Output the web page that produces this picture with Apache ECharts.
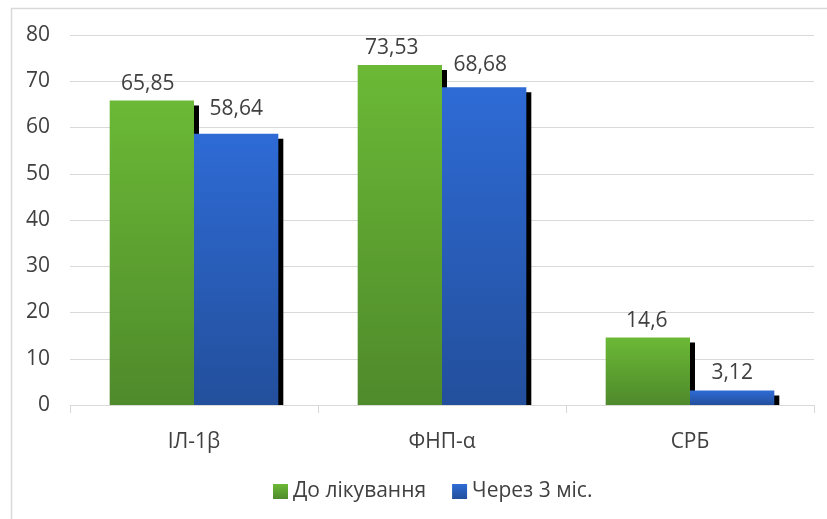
<!DOCTYPE html>
<html>
<head>
<meta charset="utf-8">
<script src="https://cdn.jsdelivr.net/npm/echarts@6/dist/echarts.min.js"></script>
<style>
html,body{margin:0;padding:0;background:#fff;}
#chart{width:827px;height:519px;}
</style>
</head>
<body>
<div id="chart"></div>
<script>
const categories = ['ІЛ-1β', 'ФНП-α', 'СРБ'];
const seriesNames = ['До лікування', 'Через 3 міс.'];
const beforeValues = [65.85, 73.53, 14.6];
const afterValues = [58.64, 68.68, 3.12];
const yTicks = { min: 0, max: 80, interval: 10 };

// label placement tweaks (styling only, not data)
const beforeLabelShift = [[-4, 0], [-8, 0], [-1, 0]];
const afterLabelShift = [[0, -7], [-4, -5], [0, 0]];

const FONT = '"Open Sans", "Noto Sans", sans-serif';
const TXT = '#404040';
const FS = 21;
const GRID = { left: 70, right: 13, top: 35, bottom: 114 };

function grad(top, bottom) {
  return new echarts.graphic.LinearGradient(0, 0, 0, 1, [
    { offset: 0, color: top }, { offset: 1, color: bottom }
  ]);
}
function fmt(v) { return String(v).replace('.', ','); }
function withShift(values, shifts) {
  return values.map((v, i) => ({ value: v, label: { offset: shifts[i] } }));
}

const chart = echarts.init(document.getElementById('chart'), null, { renderer: 'canvas' });
const W = 827, H = 519;

chart.setOption({
  animation: false,
  backgroundColor: '#fff',
  textStyle: { fontFamily: FONT },
  grid: GRID,
  legend: {
    left: 268, top: 476,
    itemWidth: 15, itemHeight: 15, itemGap: 26,
    icon: 'rect',
    textStyle: { fontFamily: FONT, fontSize: FS, color: TXT },
    data: seriesNames
  },
  xAxis: {
    type: 'category',
    data: categories,
    z: 10,
    axisLine: { lineStyle: { color: '#d9d9d9', width: 1 } },
    axisTick: { show: true, length: 8, lineStyle: { color: '#d9d9d9' } },
    axisLabel: { fontFamily: FONT, fontSize: FS, color: TXT, margin: 27 }
  },
  yAxis: {
    type: 'value',
    min: yTicks.min, max: yTicks.max, interval: yTicks.interval,
    axisLine: { show: false },
    axisTick: { show: false },
    splitLine: { lineStyle: { color: '#d9d9d9', width: 1 } },
    axisLabel: { fontFamily: FONT, fontSize: FS, color: TXT, margin: 20 }
  },
  series: [
    {
      name: seriesNames[0], type: 'bar', data: withShift(beforeValues, beforeLabelShift),
      barGap: '0%', barCategoryGap: '32%', z: 2,
      itemStyle: {
        color: grad('#6bb936', '#4f8a2b'),
        shadowColor: '#000', shadowBlur: 0, shadowOffsetX: 5, shadowOffsetY: 5
      },
      label: { show: true, position: 'top', distance: 6, fontFamily: FONT, fontSize: FS, color: TXT,
               formatter: p => fmt(p.value) }
    },
    {
      name: seriesNames[1], type: 'bar', data: withShift(afterValues, afterLabelShift),
      barGap: '0%', barCategoryGap: '32%', z: 2,
      itemStyle: {
        color: grad('#2e6bd5', '#234f9c'),
        shadowColor: '#000', shadowBlur: 0, shadowOffsetX: 5, shadowOffsetY: 5
      },
      label: { show: true, position: 'top', distance: 7, fontFamily: FONT, fontSize: FS, color: TXT,
               formatter: p => fmt(p.value) }
    }
  ],
  graphic: [
    {
      type: 'rect', silent: true, z: 100,
      shape: { x: 11.5, y: 8.5, width: 900, height: 700 },
      style: { fill: 'none', stroke: '#d9d9d9', lineWidth: 1.5 }
    },
    {
      type: 'rect', silent: true, z: 5,
      shape: { x: GRID.left, y: H - GRID.bottom + 0.5, width: W - GRID.left - GRID.right, height: 8 },
      style: { fill: '#fff' }
    }
  ]
});
</script>
</body>
</html>
